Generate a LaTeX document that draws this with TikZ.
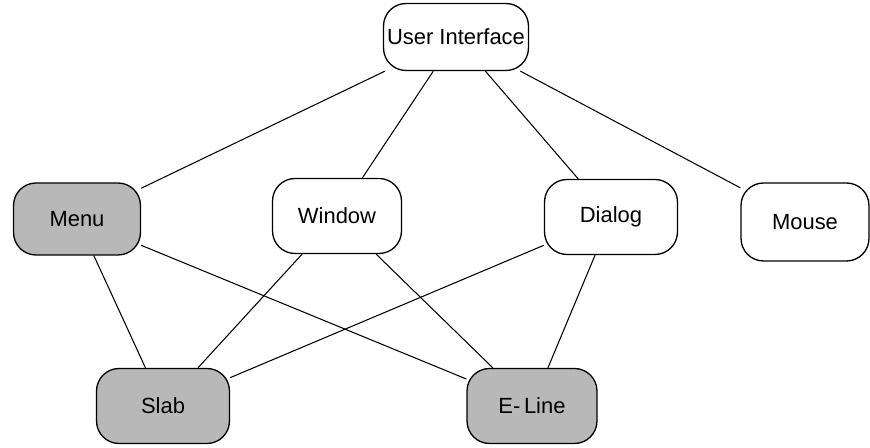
\documentclass[tikz,border=0pt]{standalone}
\usepackage{fontspec}
\setmainfont{Liberation Sans}
\usepackage{tikz}
\usetikzlibrary{arrows,patterns}

\tikzset{
    classbox/.style={draw=black, line width=0.75pt, rounded corners=0.45cm, font=\fontsize{12.5}{15}\selectfont, align=center, inner sep=2pt},
    plainbox/.style={classbox, fill=white},
    dotbox/.style={classbox, fill=black!28},
    link/.style={line width=0.6pt, black}
}

\begin{document}
\begin{tikzpicture}[x=0.02cm, y=-0.02cm]
    % Frame
    \useasboundingbox (0,0) rectangle (870,448);

    % Top
    \node[plainbox, minimum width=2.9cm, minimum height=1.34cm] (ui) at (456,37) {User Interface};

    % Middle row
    \node[dotbox, minimum width=2.54cm, minimum height=1.44cm] (menu) at (77,219) {Menu};
    \node[plainbox, minimum width=2.58cm, minimum height=1.5cm] (window) at (337,216) {Window};
    \node[plainbox, minimum width=2.66cm, minimum height=1.5cm] (dialog) at (611,217) {Dialog};
    \node[plainbox, minimum width=2.56cm, minimum height=1.56cm] (mouse) at (805,222) {Mouse};

    % Bottom row
    \node[dotbox, minimum width=2.66cm, minimum height=1.5cm] (slab) at (163,406) {Slab};
    \node[dotbox, minimum width=2.6cm, minimum height=1.5cm] (eline) at (532,406) {E-\,Line};

    % Links
    \draw[link] (ui) -- (menu);
    \draw[link] (ui) -- (window);
    \draw[link] (ui) -- (dialog);
    \draw[link] (ui) -- (mouse);
    \draw[link] (menu) -- (slab);
    \draw[link] (menu) -- (eline);
    \draw[link] (window) -- (slab);
    \draw[link] (window) -- (eline);
    \draw[link] (dialog) -- (slab);
    \draw[link] (dialog) -- (eline);
\end{tikzpicture}
\end{document}
